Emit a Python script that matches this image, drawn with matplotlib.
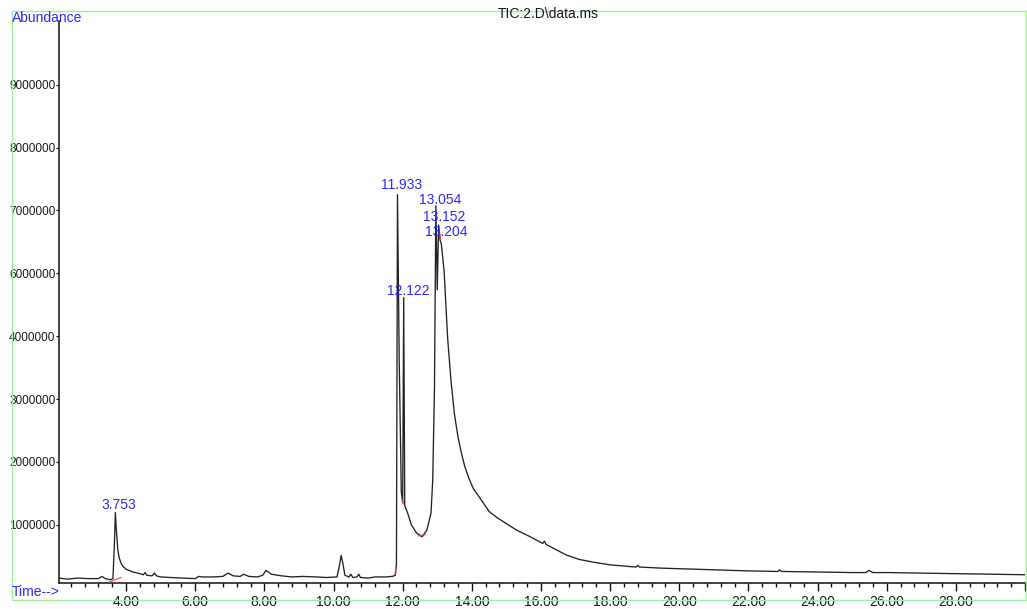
import numpy as np
import matplotlib
matplotlib.use("Agg")
import matplotlib.pyplot as plt
from matplotlib.patches import Rectangle
from matplotlib.ticker import FixedLocator

plt.rcParams['font.family'] = ['Liberation Sans', 'DejaVu Sans']

# ---------------- data (time in min, abundance in counts) ----------------
time_min = [
    2.06, 2.30, 2.60, 2.90, 3.20, 3.30, 3.40, 3.55, 3.62, 3.66, 3.69, 3.72, 3.76,
    3.80, 3.85, 3.90, 4.00, 4.20, 4.40, 4.50, 4.55, 4.60, 4.75, 4.82, 4.88, 5.00,
    5.30, 5.60, 6.00, 6.10, 6.20, 6.50, 6.80, 6.95, 7.10, 7.30, 7.40, 7.55, 7.80,
    7.95, 8.05, 8.20, 8.50, 8.80, 9.10, 9.50, 9.80, 10.10, 10.17, 10.22, 10.27,
    10.33, 10.45, 10.50, 10.56, 10.68, 10.73, 10.78, 11.00, 11.20, 11.50, 11.70,
    11.79, 11.82, 11.85, 11.90, 11.96, 12.00, 12.03, 12.06, 12.15, 12.25, 12.40,
    12.56, 12.70, 12.82, 12.87, 12.92, 12.96, 13.00, 13.04, 13.08, 13.12, 13.20,
    13.25, 13.30, 13.40, 13.50, 13.60, 13.70, 13.80, 13.93, 14.05, 14.22, 14.50,
    14.75, 15.00, 15.30, 15.66, 16.05, 16.10, 16.15, 16.73, 17.10, 17.50, 18.00,
    18.75, 18.80, 18.85, 19.50, 20.00, 20.50, 21.00, 22.00, 22.85, 22.90, 22.95,
    24.00, 25.00, 25.40, 25.48, 25.60, 26.00, 27.00, 28.00, 29.00, 30.00,
]
abundance = [v * 1e6 for v in [
    0.03, 0.01, 0.03, 0.02, 0.02, 0.06, 0.02, 0.00, 0.02, 0.60, 1.22, 0.90, 0.55,
    0.40, 0.31, 0.25, 0.19, 0.14, 0.11, 0.09, 0.13, 0.08, 0.07, 0.12, 0.07, 0.05,
    0.04, 0.03, 0.02, 0.06, 0.05, 0.05, 0.06, 0.12, 0.07, 0.06, 0.10, 0.06, 0.05,
    0.08, 0.17, 0.10, 0.07, 0.05, 0.06, 0.05, 0.04, 0.05, 0.25, 0.44, 0.30,
    0.08, 0.05, 0.10, 0.04, 0.05, 0.10, 0.04, 0.03, 0.05, 0.05, 0.06,
    0.08, 0.30, 7.00, 4.00, 1.60, 1.40, 5.13, 1.35, 1.20, 1.00, 0.85,
    0.78, 0.90, 1.21, 1.82, 3.50, 6.80, 5.27, 6.45, 6.18, 6.10, 5.60,
    5.00, 4.40, 3.60, 3.00, 2.60, 2.30, 2.05, 1.82, 1.65, 1.50, 1.24,
    1.12, 1.02, 0.90, 0.79, 0.66, 0.70, 0.64, 0.45, 0.37, 0.32, 0.27,
    0.23, 0.26, 0.23, 0.21, 0.20, 0.19, 0.18, 0.16, 0.15, 0.18, 0.15,
    0.14, 0.13, 0.13, 0.17, 0.13, 0.13, 0.12, 0.11, 0.10, 0.09,
]]

peak_labels = ["3.753", "11.933", "12.122", "13.054", "13.152", "13.204"]
peak_label_heights = [1.22e6, 7.00e6, 5.13e6, 6.80e6, 6.45e6, 6.18e6]
peak_label_lift = [8, 10, 7, 6, 8, 7.5]   # px above apex

# short red integration-baseline marks: (start time, start abundance, end time, end abundance)
mark_t0 = [3.52, 11.78, 11.99, 12.46, 13.07]
mark_v0 = [-0.04e6, 0.10e6, 1.45e6, 0.80e6, 6.30e6]
mark_t1 = [3.85, 11.80, 12.02, 12.66, 13.09]
mark_v1 = [0.04e6, 0.20e6, 1.38e6, 0.82e6, 6.20e6]

xtick_major = [4, 6, 8, 10, 12, 14, 16, 18, 20, 22, 24, 26, 28, 30]
xtick_labels = ["4.00", "6.00", "8.00", "10.00", "12.00", "14.00", "16.00",
                "18.00", "20.00", "22.00", "24.00", "26.00", "28.00", ""]
ytick_labels = ["1000000", "2000000", "3000000", "4000000",
                "6000000", "7000000", "8000000", "9000000"]

# ---------------- figure ----------------
W, H = 1027, 609
fig = plt.figure(figsize=(W / 100, H / 100), dpi=100)
fig.patch.set_facecolor('white')

def fx(px):
    return px / W

def fy(py):
    return 1 - py / H

# green frame
fig.patches.append(Rectangle((fx(12), fy(600)), fx(1026) - fx(12), fy(11) - fy(600),
                             transform=fig.transFigure, fill=False,
                             edgecolor='#9cf09c', lw=1.0, zorder=0))

ax = fig.add_axes([fx(59), fy(583), fx(1025) - fx(59), fy(21) - fy(583)])
ax.set_facecolor('none')
ax.set_xlim(2.06, 30.0)
ax.set_ylim(-0.06e6, 10.16e6)

ax.plot(time_min, abundance, color='#222222', lw=0.95, zorder=3)

for t0, v0, t1, v1 in zip(mark_t0, mark_v0, mark_t1, mark_v1):
    ax.plot([t0, t1], [v0, v1], color='#ff3a3a', lw=1.0, zorder=4, alpha=0.85)

# peak labels
for lab, h, lift in zip(peak_labels, peak_label_heights, peak_label_lift):
    ax.annotate(lab, xy=(float(lab), h), xytext=(1.5 * 0.72, lift * 0.72),
                textcoords='offset points', ha='center', va='center',
                fontsize=10, color='#2a2aff', zorder=5, annotation_clip=False)

for s in ['top', 'right']:
    ax.spines[s].set_visible(False)
for s in ['left', 'bottom']:
    ax.spines[s].set_color('#111111')
    ax.spines[s].set_linewidth(1.1)

ax.xaxis.set_major_locator(FixedLocator(xtick_major))
ax.set_xticklabels(xtick_labels)
ax.xaxis.set_minor_locator(FixedLocator(np.arange(2.4, 30.01, 0.4)))
ax.tick_params(axis='x', which='major', direction='out', length=5.5, width=1.0,
               pad=3.5, labelsize=10, labelcolor='#1a1a1a', color='#111111')
ax.tick_params(axis='x', which='minor', direction='out', length=3.0, width=1.0,
               color='#111111')

ax.yaxis.set_major_locator(FixedLocator(np.linspace(1e6, 9e6, len(ytick_labels))))
ax.set_yticklabels(ytick_labels)
ax.tick_params(axis='y', which='major', direction='out', length=2.0, width=0.8,
               pad=0.5, labelsize=8.5, labelcolor='#1a1a1a', color='#111111')

fig.text(fx(12), fy(18), "Abundance", color='#2a2aff', fontsize=10,
         ha='left', va='center')
fig.text(fx(12), fy(592), "Time-->", color='#2a2aff', fontsize=10,
         ha='left', va='center')
fig.text(fx(548), fy(14), "TIC:2.D\\data.ms", color='#1a1a1a', fontsize=10,
         ha='center', va='center')

fig.savefig("out.png", dpi=100, facecolor='white')
